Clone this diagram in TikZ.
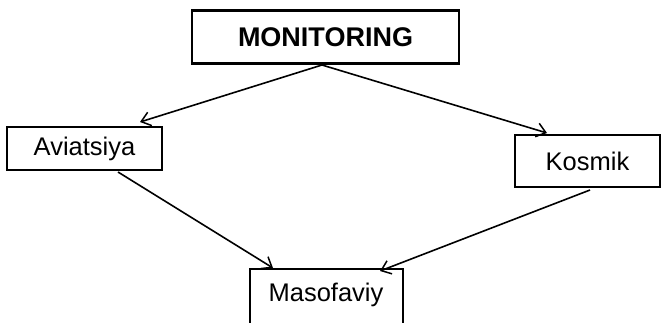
\documentclass[tikz,border=0pt]{standalone}
\usepackage{fontspec}
\setmainfont{Liberation Sans}
\usetikzlibrary{arrows.meta}
\begin{document}
\begin{tikzpicture}[x=1pt,y=-1pt,
  boxstyle/.style={draw=black,line width=2.2pt,inner sep=0pt,font=\fontsize{25.5}{30}\selectfont},
  labelstyle/.style={inner sep=0pt,font=\fontsize{25.5}{30}\selectfont},
  conn/.style={line width=1.6pt,-{Straight Barb[length=9pt,width=14pt,line width=1.5pt]}}]
\clip (0,0) rectangle (664,322);
\fill[white] (0,0) rectangle (664,322);
\node[boxstyle,minimum width=267pt,minimum height=53pt,font=\fontsize{27}{32}\selectfont\bfseries] (mon) at (325.5,37) {MONITORING};
\node[boxstyle,minimum width=155pt,minimum height=43pt] (avi) at (84.5,148.5) {Aviatsiya};
\node[boxstyle,minimum width=145pt,minimum height=52pt] (kos) at (587.5,161) {Kosmik};
\node[boxstyle,minimum width=153pt,minimum height=80pt] (mas) at (326.5,309) {};
\node[labelstyle] (mastext) at (326,295) {Masofaviy};
\coordinate (top) at (322,65);
\coordinate (aviin) at (140,122);
\coordinate (kosin) at (547,133);
\coordinate (aviout) at (118,172);
\coordinate (kosout) at (590,190);
\coordinate (masinl) at (273,268);
\coordinate (masinr) at (380,271);
\draw[conn] (top) -- (aviin);
\draw[conn] (top) -- (kosin);
\draw[conn] (aviout) -- (masinl);
\draw[conn] (kosout) -- (masinr);
\end{tikzpicture}
\end{document}
